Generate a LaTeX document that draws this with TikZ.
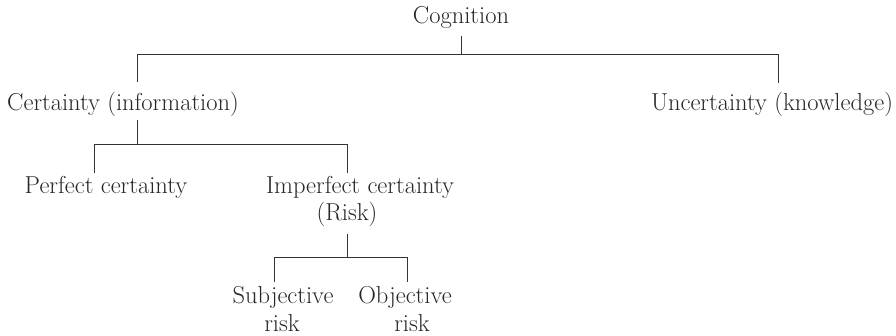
\documentclass[tikz,border=0pt]{standalone}
\begin{document}
\begin{tikzpicture}[x=1pt,y=-1pt,
  lbl/.style={anchor=base,inner sep=0pt,text height=16pt,text depth=5pt,
    font=\fontsize{24.5}{29}\selectfont,text=black!85},
  conn/.style={line width=1pt,draw=black!80}]
\useasboundingbox (0,0) rectangle (896,335);
% nodes
\node[lbl] (cog)  at (461,23)  {Cognition};
\node[lbl] (cert) at (123,110) {Certainty (information)};
\node[lbl] (unc)  at (772,110) {Uncertainty (knowledge)};
\node[lbl] (perf) at (106,193) {Perfect certainty};
\node[lbl] (imp)  at (360,193) {Imperfect certainty};
\node[lbl] (risk) at (347,220) {(Risk)};
\node[lbl] (subj) at (283,303) {Subjective};
\node[lbl] (subjr) at (282,331) {risk};
\node[lbl] (obj)  at (405,303) {Objective};
\node[lbl] (objr) at (412,331) {risk};
% junctions
\coordinate (j1) at (461,54);
\coordinate (j2) at (137,144);
\coordinate (j3) at (347,257);
% connectors
\draw[conn] ([yshift=-8pt]cog.south) -- (j1);
\draw[conn] (j1) -| ([xshift=14pt,yshift=12pt]cert.north);
\draw[conn] (j1) -| ([xshift=6pt,yshift=11pt]unc.north);
\draw[conn] ([xshift=14pt,yshift=-5pt]cert.south) -- (j2);
\draw[conn] (j2) -| ([xshift=-12pt,yshift=4pt]perf.north);
\draw[conn] (j2) -| ([xshift=-13pt,yshift=4pt]imp.north);
\draw[conn] ([yshift=-9pt]risk.south) -- (j3);
\draw[conn] (j3) -| ([xshift=-9pt,yshift=5pt]subj.north);
\draw[conn] (j3) -| ([xshift=2pt,yshift=5pt]obj.north);
\end{tikzpicture}
\end{document}
